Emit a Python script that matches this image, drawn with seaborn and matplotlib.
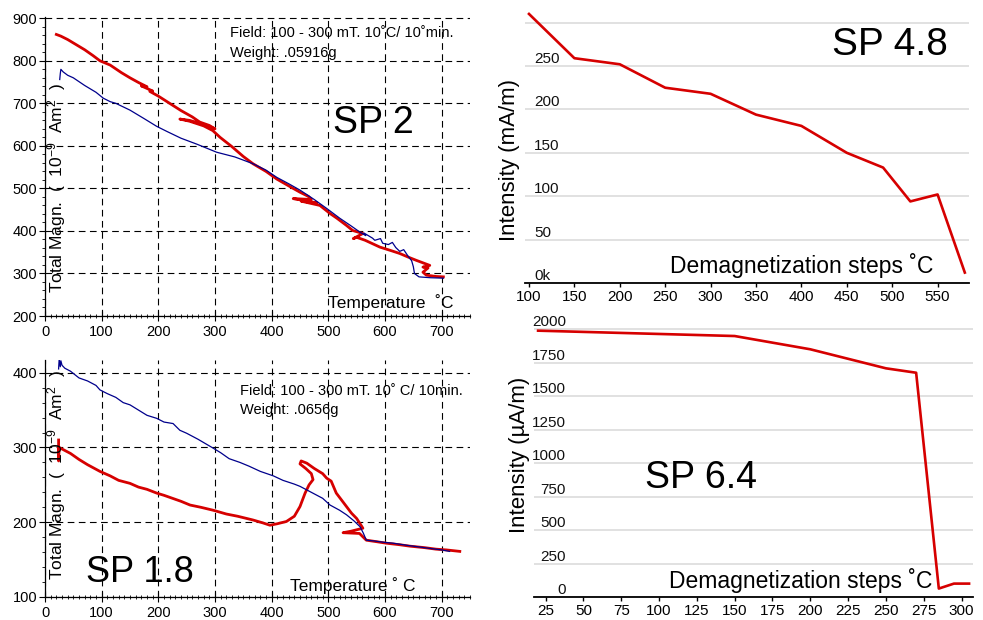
import matplotlib
matplotlib.use('Agg')
import matplotlib.pyplot as plt
from matplotlib.ticker import MultipleLocator
import seaborn as sns

# ---- thermomagnetic curves (temperature C, total magnetisation 1e-9 Am2) ----
# SP 2, red = heating, blue = cooling
sp2_heat_t = [20, 28, 40, 55, 70, 85, 97, 115, 135, 150, 165, 180, 170, 190, 185, 200, 220,
              240, 260, 273, 290, 300, 280, 255, 238, 255, 280, 296, 309, 330, 350, 367, 390,
              409, 430, 450, 465, 470, 438, 480, 452, 485, 503, 515, 532, 543, 561, 544, 550,
              565, 591, 610, 626, 640, 655, 679, 667, 676, 667, 673, 690, 703]
sp2_heat_m = [862, 858, 850, 838, 826, 812, 800, 790, 772, 760, 749, 739, 741, 729, 728, 717, 700,
              683, 668, 656, 648, 640, 650, 660, 663, 658, 647, 636, 620, 598, 575, 558, 540,
              522, 506, 491, 481, 474, 476, 466, 470, 460, 441, 430, 413, 401, 394, 382, 385,
              378, 362, 354, 347, 339, 331, 319, 315, 313, 303, 296, 293, 292]
sp2_cool_t = [26, 27, 28, 32, 40, 50, 70, 90, 103, 115, 125, 150, 175, 197, 215, 240, 268,
              303, 335, 367, 390, 409, 430, 450, 475, 497, 520, 540, 556, 566, 563, 578, 582,
              592, 596, 606, 613, 619, 626, 633, 640, 647, 650, 652, 660, 680, 703]
sp2_cool_m = [756, 770, 780, 774, 766, 760, 742, 726, 712, 704, 700, 684, 664, 646, 634, 618, 604,
              585, 574, 558, 543, 526, 511, 496, 474, 453, 430, 412, 397, 389, 395, 383, 378,
              382, 371, 368, 373, 361, 352, 356, 342, 330, 316, 300, 292, 290, 289]

# SP 1.8
sp18_heat_t = [24, 24, 25, 30, 45, 60, 75, 97, 115, 130, 150, 165, 180, 197, 210, 225, 240,
               256, 275, 297, 320, 340, 367, 385, 397, 410, 426, 440, 450, 459, 466, 473, 470,
               460, 450, 452, 462, 475, 490, 497, 505, 514, 523, 532, 541, 550, 556, 561, 540,
               526, 555, 567, 585, 602, 625, 644, 670, 690, 708, 732]
sp18_heat_m = [310, 282, 300, 298, 292, 284, 277, 268, 262, 256, 252, 247, 244, 239, 236, 232, 228,
               223, 220, 216, 211, 208, 203, 199, 196, 198, 201, 208, 221, 239, 250, 257, 265,
               272, 278, 282, 279, 272, 265, 259, 255, 239, 230, 221, 212, 205, 198, 192, 188,
               186, 185, 176, 174, 172, 170, 168, 166, 164, 163, 161]
sp18_cool_t = [24, 25, 27, 28, 30, 35, 45, 60, 75, 90, 97, 110, 125, 138, 150, 165, 180, 197,
               210, 226, 238, 250, 270, 297, 310, 325, 344, 360, 380, 403, 420, 440, 450, 470,
               490, 503, 520, 532, 545, 556, 562, 567, 580, 600, 614, 640, 660, 679, 700, 714]
sp18_cool_m = [405, 418, 408, 416, 410, 406, 402, 393, 389, 383, 377, 372, 367, 360, 357, 350, 343, 339,
               334, 332, 323, 319, 311, 299, 293, 285, 280, 275, 268, 262, 256, 251, 248, 240,
               232, 223, 216, 210, 202, 194, 185, 176, 175, 173, 172, 169, 167, 165, 163, 161]

# ---- demagnetization steps ----
sp48_step = [100, 150, 200, 250, 300, 350, 400, 450, 490, 520, 550, 580]
sp48_int = [310, 259, 252, 225, 218, 194, 181, 150, 133, 94, 102, 12]          # mA/m
sp48_yticks = [0, 50, 100, 150, 200, 250, 300]
sp48_ylabels = ['0k', '50', '100', '150', '200', '250', '']

sp64_step = [20, 150, 200, 250, 270, 285, 295, 305]
sp64_int = [1988, 1948, 1849, 1707, 1674, 63, 100, 100]                        # uA/m
sp64_yticks = [0, 250, 500, 750, 1000, 1250, 1500, 1750, 2000]

RED = '#d60000'
BLUE = '#00008c'

plt.rcParams['font.family'] = ['Liberation Sans', 'DejaVu Sans']
plt.rcParams['mathtext.default'] = 'regular'

W, H = 983, 620
fig = plt.figure(figsize=(W / 100, H / 100), dpi=100)


def box(x0, y0, x1, y1):
    # pixel box (top-left origin) -> figure fraction rect
    return [x0 / W, 1 - y1 / H, (x1 - x0) / W, (y1 - y0) / H]


def fxy(x, y):
    return x / W, 1 - y / H


ax_tl = fig.add_axes(box(45, 17, 470, 316))
ax_bl = fig.add_axes(box(45, 360, 470, 597))
ax_tr = fig.add_axes(box(525, 7, 969, 283))
ax_br = fig.add_axes(box(534, 317, 973, 597))


def thermo_style(ax, ylim, yticks):
    ax.set_xlim(0, 750)
    ax.set_ylim(*ylim)
    ax.set_xticks(range(0, 701, 100))
    ax.set_yticks(yticks)
    ax.xaxis.set_minor_locator(MultipleLocator(10))
    ax.yaxis.set_minor_locator(MultipleLocator(20))
    ax.grid(True, which='major', color='black', linestyle=(0, (6, 4)), linewidth=0.8)
    ax.set_axisbelow(True)
    for s in ['top', 'right']:
        ax.spines[s].set_visible(False)
    for s in ['left', 'bottom']:
        ax.spines[s].set_linewidth(0.9)
    ax.tick_params(axis='x', which='major', direction='inout', length=7, width=0.8, pad=3, labelsize=10.5)
    ax.tick_params(axis='x', which='minor', direction='inout', length=3.5, width=0.6)
    ax.tick_params(axis='y', which='major', direction='out', length=4.5, width=0.8, pad=1, labelsize=10.5)
    ax.tick_params(axis='y', which='minor', direction='out', length=2.5, width=0.6)
    ax.set_xlabel('')
    ax.set_ylabel('')


def demag_style(ax, xlim, ylim, xticks, yticks, ylabels, ha, pad):
    ax.set_xlim(*xlim)
    ax.set_ylim(*ylim)
    ax.set_xticks(xticks)
    ax.set_yticks(yticks)
    ax.set_yticklabels(ylabels, ha=ha, va='bottom')
    ax.grid(True, axis='y', color='#d9d9d9', linewidth=1.1)
    ax.set_axisbelow(True)
    for s in ['top', 'right', 'left']:
        ax.spines[s].set_visible(False)
    ax.spines['bottom'].set_linewidth(1.3)
    ax.tick_params(axis='y', length=0, pad=pad, labelsize=11, labelcolor='#111111')
    ax.tick_params(axis='x', direction='out', length=3, width=1, pad=2, labelsize=11)
    ax.set_xlabel('')
    ax.set_ylabel('')


# thermomagnetic panels
sns.lineplot(x=sp2_heat_t, y=sp2_heat_m, sort=False, estimator=None, color=RED, lw=2.0, ax=ax_tl)
sns.lineplot(x=sp2_cool_t, y=sp2_cool_m, sort=False, estimator=None, color=BLUE, lw=0.9, ax=ax_tl)
thermo_style(ax_tl, (200, 903), range(200, 901, 100))

sns.lineplot(x=sp18_heat_t, y=sp18_heat_m, sort=False, estimator=None, color=RED, lw=2.0, ax=ax_bl)
sns.lineplot(x=sp18_cool_t, y=sp18_cool_m, sort=False, estimator=None, color=BLUE, lw=0.9, ax=ax_bl)
thermo_style(ax_bl, (100, 417), range(100, 401, 100))

# demagnetization panels
sns.lineplot(x=sp48_step, y=sp48_int, color=RED, lw=1.9, ax=ax_tr)
demag_style(ax_tr, (95.6, 584.6), (0, 318), range(100, 551, 50), sp48_yticks, sp48_ylabels, 'left', -6.5)

sns.lineplot(x=sp64_step, y=sp64_int, color=RED, lw=1.9, ax=ax_br)
demag_style(ax_br, (17.3, 307.6), (0, 2090), range(25, 301, 25), sp64_yticks,
            [str(v) for v in sp64_yticks], 'right', -23)

# text
ylab = 'Total Magn.  (  10$^{-9}$  Am$^{2}$  )'
fig.text(*fxy(57, 188), ylab, rotation=90, ha='center', va='center', fontsize=12.5)
fig.text(*fxy(57, 475), ylab, rotation=90, ha='center', va='center', fontsize=12.5)

fig.text(*fxy(230, 33), 'Field: 100 - 300 mT. 10˚C/ 10˚min.', ha='left', va='center', fontsize=10.5)
fig.text(*fxy(230, 53), 'Weight: .05916g', ha='left', va='center', fontsize=10.5)
fig.text(*fxy(240, 391), 'Field: 100 - 300 mT. 10˚ C/ 10min.', ha='left', va='center', fontsize=10.5)
fig.text(*fxy(240, 410), 'Weight: .0656g', ha='left', va='center', fontsize=10.5)

fig.text(*fxy(373, 123), 'SP 2', ha='center', va='center', fontsize=27)
fig.text(*fxy(140, 572), 'SP 1.8', ha='center', va='center', fontsize=26)
fig.text(*fxy(328, 303), 'Temperature  ˚C', ha='left', va='center', fontsize=12.5)
fig.text(*fxy(290, 586), 'Temperature ˚ C', ha='left', va='center', fontsize=12.5)

fig.text(*fxy(890, 45), 'SP 4.8', ha='center', va='center', fontsize=28)
fig.text(*fxy(701, 478), 'SP 6.4', ha='center', va='center', fontsize=27)
fig.text(*fxy(933, 273), 'Demagnetization steps ˚C', ha='right', va='baseline', fontsize=16.5)
fig.text(*fxy(932, 588), 'Demagnetization steps ˚C', ha='right', va='baseline', fontsize=16.5)
fig.text(*fxy(510, 160), 'Intensity (mA/m)', rotation=90, ha='center', va='center', fontsize=16)
fig.text(*fxy(520, 455), 'Intensity (µA/m)', rotation=90, ha='center', va='center', fontsize=16)

fig.savefig('out.png', dpi=100)
